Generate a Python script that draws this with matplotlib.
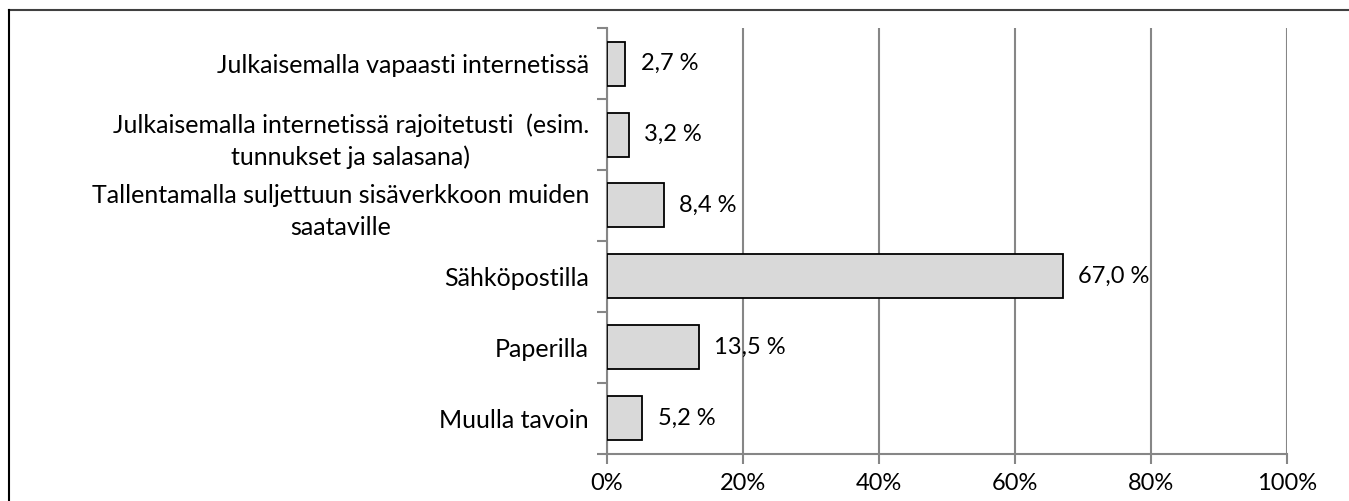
import matplotlib.pyplot as plt
from matplotlib.lines import Line2D

categories = [
    "Julkaisemalla vapaasti internetissä",
    "Julkaisemalla internetissä rajoitetusti  (esim.\ntunnukset ja salasana)",
    "Tallentamalla suljettuun sisäverkkoon muiden\nsaataville",
    "Sähköpostilla",
    "Paperilla",
    "Muulla tavoin",
]
values = [2.7, 3.2, 8.4, 67.0, 13.5, 5.2]
value_labels = ["2,7 %", "3,2 %", "8,4 %", "67,0 %", "13,5 %", "5,2 %"]
x_ticks = [0, 20, 40, 60, 80, 100]

plt.rcParams['font.family'] = ['Lato', 'DejaVu Sans']

fig = plt.figure(figsize=(13.49, 5.01), dpi=100)
ax = fig.add_axes([0.45, 0.094, 0.504, 0.850])

ypos = list(range(len(categories)))
ax.barh(ypos, values, height=0.62, color='#d9d9d9', edgecolor='black', linewidth=1.3, zorder=3)

for y, v, lab in zip(ypos, values, value_labels):
    ax.annotate(lab, (v, y), xytext=(11, 0), textcoords='offset points',
                va='center', ha='left', fontsize=17, color='black')

ax.set_xlim(0, 100)
ax.set_ylim(len(categories) - 0.5, -0.5)
ax.set_xticks(x_ticks)
ax.set_xticklabels([f"{t}%" for t in x_ticks], fontsize=17)
ax.set_yticks(ypos)
ax.set_yticklabels(categories, fontsize=18, multialignment='center', linespacing=1.45)
ax.tick_params(axis='y', length=0, pad=13)
ax.set_yticks([i - 0.5 for i in range(len(categories) + 1)], minor=True)
ax.tick_params(axis='y', which='minor', length=7, width=1.5, color='#868686')
ax.tick_params(axis='x', length=7, width=1.5, color='#868686', pad=7)

ax.grid(axis='x', color='#868686', linewidth=1.5, zorder=0)
for s in ['top', 'right']:
    ax.spines[s].set_visible(False)
for s in ['left', 'bottom']:
    ax.spines[s].set_color('#868686')
    ax.spines[s].set_linewidth(1.5)

# figure border (top and left visible in the crop)
fig.add_artist(Line2D([9 / 1349, 1], [1 - 10 / 501, 1 - 10 / 501], color='#404040', linewidth=1.5))
fig.add_artist(Line2D([9 / 1349, 9 / 1349], [0, 1 - 10 / 501], color='black', linewidth=1.5))

fig.savefig('out.png', dpi=100)
